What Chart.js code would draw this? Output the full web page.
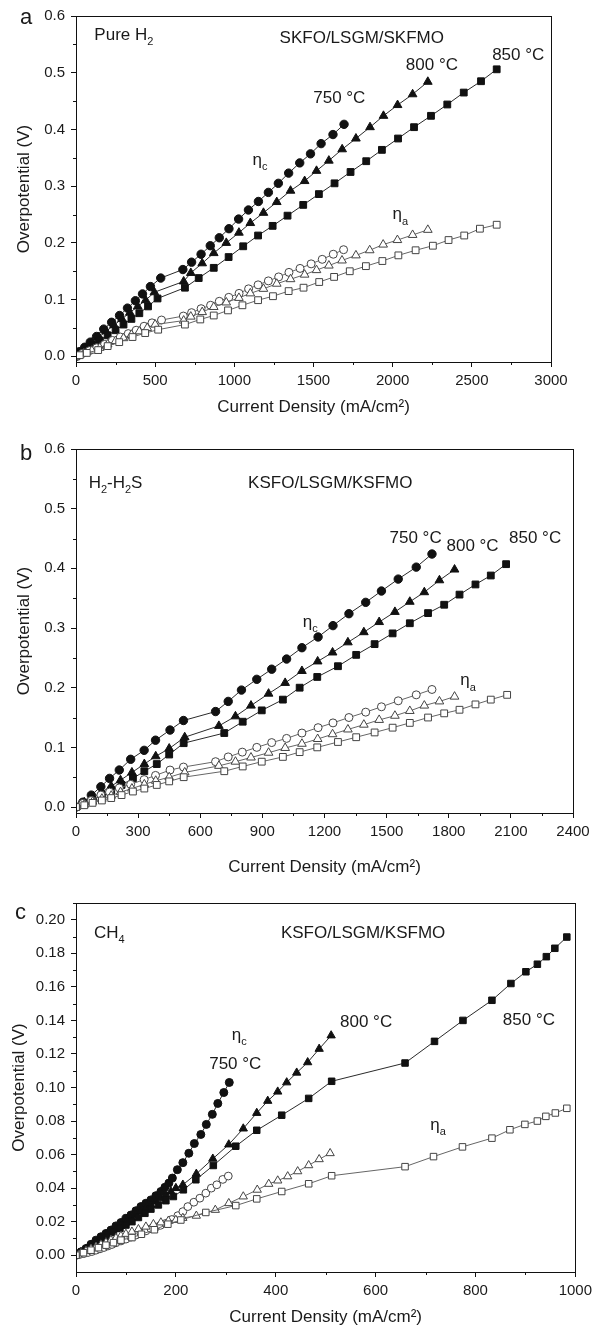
<!DOCTYPE html>
<html>
<head>
<meta charset="utf-8">
<script src="https://cdn.jsdelivr.net/npm/chart.js@4.4.1/dist/chart.umd.min.js"></script>
<style>
  html, body { margin: 0; padding: 0; background: #fff; }
  #wrap { position: relative; width: 597px; height: 1335px; }
  canvas { position: absolute; left: 0; }
</style>
</head>
<body>
<div id="wrap">
  <canvas id="chartA" width="597" height="418" style="top:0"></canvas>
  <canvas id="chartB" width="597" height="448" style="top:430px"></canvas>
  <canvas id="chartC" width="597" height="448" style="top:880px"></canvas>
</div>
<script>
// ---- panel a: pure H2, [current density mA/cm2, overpotential V] ----
const aCath750 = [[0,0],[20,0.008],[55,0.016],[90,0.025],[130,0.035],[175,0.048],[225,0.060],[275,0.072],[325,0.085],[375,0.098],[420,0.110],[470,0.123],[535,0.138],[675,0.153],[730,0.166],[790,0.180],[848,0.195],[905,0.209],[966,0.225],[1027,0.242],[1089,0.258],[1152,0.273],[1215,0.289],[1278,0.305],[1343,0.323],[1413,0.341],[1481,0.357],[1548,0.375],[1623,0.391],[1693,0.409]];
const aCath800 = [[0,0],[25,0.007],[60,0.014],[100,0.024],[145,0.034],[190,0.044],[240,0.055],[290,0.066],[340,0.077],[390,0.088],[440,0.099],[495,0.113],[680,0.132],[725,0.147],[797,0.164],[870,0.182],[949,0.200],[1029,0.218],[1101,0.235],[1184,0.253],[1268,0.272],[1355,0.292],[1444,0.309],[1519,0.327],[1597,0.345],[1681,0.365],[1768,0.384],[1857,0.404],[1942,0.424],[2031,0.443],[2126,0.462],[2222,0.484]];
const aCath850 = [[0,0],[30,0.005],[70,0.012],[110,0.020],[150,0.028],[200,0.037],[250,0.046],[300,0.056],[350,0.066],[400,0.076],[455,0.088],[515,0.102],[688,0.121],[775,0.138],[870,0.156],[964,0.175],[1056,0.194],[1150,0.213],[1242,0.230],[1336,0.248],[1435,0.267],[1534,0.286],[1633,0.305],[1734,0.325],[1833,0.344],[1932,0.364],[2034,0.384],[2135,0.404],[2242,0.424],[2345,0.444],[2449,0.465],[2558,0.485],[2657,0.506]];
const aAn750 = [[0,0],[40,0.005],[85,0.010],[130,0.015],[180,0.021],[230,0.028],[280,0.034],[330,0.040],[380,0.046],[430,0.053],[480,0.059],[540,0.064],[678,0.071],[730,0.077],[790,0.084],[850,0.090],[905,0.097],[965,0.104],[1030,0.111],[1090,0.119],[1150,0.126],[1215,0.133],[1280,0.140],[1345,0.148],[1415,0.155],[1485,0.163],[1555,0.171],[1625,0.180],[1690,0.188]];
const aAn800 = [[0,0],[50,0.005],[100,0.010],[150,0.015],[200,0.021],[250,0.027],[300,0.032],[350,0.038],[400,0.044],[450,0.050],[500,0.056],[680,0.063],[725,0.070],[797,0.078],[870,0.087],[949,0.095],[1029,0.103],[1101,0.111],[1184,0.119],[1268,0.128],[1355,0.136],[1444,0.144],[1519,0.152],[1597,0.160],[1680,0.169],[1768,0.178],[1855,0.187],[1940,0.197],[2030,0.205],[2126,0.214],[2222,0.223]];
const aAn850 = [[0,0],[24,0.002],[68,0.006],[140,0.011],[200,0.018],[273,0.025],[357,0.034],[437,0.041],[519,0.047],[688,0.056],[785,0.065],[870,0.072],[960,0.081],[1051,0.090],[1150,0.099],[1244,0.106],[1343,0.115],[1437,0.121],[1536,0.131],[1630,0.140],[1729,0.150],[1831,0.159],[1935,0.168],[2036,0.178],[2145,0.187],[2254,0.195],[2353,0.205],[2452,0.213],[2551,0.225],[2657,0.232]];
const aXTicks = [0, 500, 1000, 1500, 2000, 2500, 3000];
const aYTicks = [0, 0.1, 0.2, 0.3, 0.4, 0.5, 0.6];

// ---- panel b: H2-H2S ----
const bCath750 = [[0,0],[33,0.008],[74,0.020],[120,0.034],[162,0.048],[209,0.062],[264,0.080],[329,0.095],[384,0.112],[454,0.129],[519,0.145],[674,0.160],[735,0.177],[799,0.196],[873,0.214],[945,0.231],[1017,0.248],[1091,0.267],[1169,0.285],[1241,0.304],[1318,0.324],[1399,0.343],[1475,0.362],[1556,0.382],[1643,0.402],[1719,0.424]];
const bCath800 = [[0,0],[40,0.008],[80,0.016],[125,0.025],[170,0.035],[215,0.045],[270,0.058],[330,0.072],[385,0.085],[450,0.098],[525,0.117],[690,0.136],[770,0.152],[845,0.170],[930,0.190],[1010,0.208],[1091,0.228],[1167,0.244],[1239,0.259],[1313,0.276],[1390,0.293],[1464,0.310],[1540,0.327],[1612,0.344],[1682,0.360],[1755,0.380],[1828,0.398]];
const bCath850 = [[0,0],[40,0.006],[80,0.012],[125,0.020],[170,0.028],[220,0.037],[275,0.048],[330,0.060],[390,0.072],[450,0.088],[520,0.107],[716,0.124],[805,0.143],[897,0.162],[999,0.180],[1080,0.200],[1165,0.218],[1265,0.236],[1353,0.255],[1442,0.273],[1529,0.291],[1612,0.308],[1700,0.325],[1778,0.339],[1852,0.356],[1929,0.373],[2003,0.388],[2077,0.407]];
const bAn750 = [[0,0],[33,0.006],[74,0.011],[120,0.020],[162,0.025],[209,0.032],[264,0.038],[329,0.046],[384,0.053],[454,0.062],[519,0.067],[674,0.076],[735,0.084],[803,0.092],[873,0.100],[945,0.108],[1017,0.115],[1091,0.124],[1169,0.133],[1241,0.141],[1318,0.150],[1399,0.159],[1475,0.168],[1556,0.178],[1643,0.188],[1719,0.197]];
const bAn800 = [[0,0],[40,0.004],[80,0.009],[125,0.014],[170,0.019],[215,0.025],[270,0.031],[330,0.038],[385,0.044],[450,0.050],[525,0.058],[690,0.069],[770,0.076],[845,0.083],[930,0.091],[1010,0.099],[1091,0.106],[1167,0.114],[1239,0.122],[1313,0.130],[1390,0.138],[1464,0.146],[1540,0.153],[1612,0.161],[1682,0.170],[1755,0.177],[1828,0.185]];
const bAn850 = [[0,0],[40,0.003],[80,0.007],[125,0.011],[170,0.015],[220,0.020],[275,0.026],[330,0.031],[390,0.037],[450,0.043],[520,0.050],[716,0.060],[805,0.068],[897,0.076],[999,0.084],[1080,0.092],[1165,0.100],[1265,0.109],[1353,0.117],[1442,0.125],[1529,0.133],[1612,0.141],[1700,0.150],[1778,0.157],[1852,0.163],[1929,0.172],[2003,0.180],[2082,0.188]];
const bXTicks = [0, 300, 600, 900, 1200, 1500, 1800, 2100, 2400];
const bYTicks = [0, 0.1, 0.2, 0.3, 0.4, 0.5, 0.6];

// ---- panel c: CH4 ----
const cCath750 = [[0,0],[10,0.002],[20,0.004],[30,0.0065],[40,0.009],[50,0.011],[60,0.013],[70,0.015],[80,0.0175],[90,0.0195],[100,0.022],[110,0.024],[120,0.0265],[130,0.029],[140,0.031],[150,0.033],[160,0.0355],[170,0.038],[178,0.0405],[186,0.043],[193,0.046],[203,0.051],[214,0.0552],[226,0.0608],[237,0.0666],[250,0.072],[261,0.078],[273,0.084],[284,0.0905],[296,0.097],[307,0.103]];
const cCath800 = [[0,0],[10,0.0018],[20,0.0036],[30,0.0055],[40,0.0075],[50,0.0095],[60,0.0115],[70,0.0135],[80,0.0155],[90,0.0175],[100,0.0195],[110,0.022],[120,0.024],[130,0.026],[140,0.028],[150,0.030],[160,0.032],[170,0.034],[180,0.036],[190,0.038],[200,0.040],[214,0.042],[241,0.0485],[274,0.0575],[306,0.066],[335,0.0755],[362,0.0848],[384,0.092],[404,0.0975],[422,0.103],[442,0.1088],[464,0.115],[487,0.123],[511,0.131]];
const cCath850 = [[0,0],[12,0.002],[25,0.004],[38,0.0065],[50,0.009],[62,0.011],[75,0.0135],[88,0.016],[100,0.018],[112,0.020],[125,0.0225],[138,0.025],[150,0.0275],[165,0.030],[180,0.0325],[195,0.035],[215,0.039],[240,0.045],[275,0.0535],[320,0.065],[362,0.0745],[412,0.0835],[466,0.0935],[512,0.1037],[659,0.1146],[718,0.1275],[775,0.140],[833,0.152],[871,0.162],[901,0.169],[924,0.1735],[942,0.178],[959,0.183],[983,0.1897]];
const cAn750 = [[0,0],[8,0.0005],[16,0.001],[24,0.0016],[32,0.0022],[40,0.003],[48,0.0038],[56,0.0046],[64,0.0055],[72,0.0064],[80,0.0074],[90,0.0085],[100,0.0096],[110,0.0108],[120,0.012],[130,0.0132],[140,0.0145],[150,0.0158],[160,0.0168],[169,0.0178],[180,0.019],[192,0.0213],[204,0.0236],[214,0.026],[224,0.029],[236,0.0316],[248,0.034],[260,0.037],[271,0.040],[282,0.042],[294,0.0452],[305,0.0472]];
const cAn800 = [[0,0],[10,0.0012],[20,0.0025],[30,0.0038],[40,0.005],[50,0.0063],[60,0.0076],[70,0.009],[80,0.0102],[90,0.0115],[100,0.0127],[112,0.014],[125,0.0155],[140,0.017],[155,0.0185],[170,0.0195],[185,0.0205],[200,0.021],[214,0.0222],[241,0.0235],[279,0.027],[306,0.031],[335,0.035],[363,0.039],[386,0.0425],[404,0.0445],[424,0.047],[444,0.050],[466,0.0536],[487,0.0572],[509,0.0608]];
const cAn850 = [[0,0],[15,0.0015],[30,0.003],[45,0.0045],[60,0.006],[75,0.0075],[90,0.009],[112,0.0105],[131,0.0125],[157,0.0152],[184,0.0185],[210,0.021],[260,0.0255],[320,0.0296],[362,0.0336],[412,0.038],[466,0.0426],[512,0.0474],[659,0.0528],[716,0.0588],[774,0.0646],[833,0.0698],[869,0.0748],[899,0.078],[924,0.080],[941,0.0828],[960,0.0848],[983,0.0876]];
const cXTicks = [0, 200, 400, 600, 800, 1000];
const cYTicks = [0, 0.02, 0.04, 0.06, 0.08, 0.10, 0.12, 0.14, 0.16, 0.18, 0.20];

const FONT = 'Liberation Sans, Arial, sans-serif';
const INK = '#1a1a1a';

function series(points, style, filled, r) {
  return {
    data: points.map(([x, y]) => ({ x, y })),
    showLine: true,
    tension: 0,
    borderWidth: 1,
    borderColor: filled ? '#2a2a2a' : '#666',
    pointStyle: style,
    pointRadius: r,
    pointBorderWidth: 1,
    pointBorderColor: filled ? '#111' : '#444',
    pointBackgroundColor: filled ? '#111' : '#fff',
  };
}

// box frame, minor ticks, in-plot labels and panel letter
const decor = {
  id: 'decor',
  afterDraw(chart, args, o) {
    const { ctx, chartArea: a, scales: { x, y } } = chart;
    ctx.save();
    ctx.strokeStyle = '#111';
    ctx.lineWidth = 1;
    ctx.strokeRect(Math.round(a.left) + 0.5, Math.round(a.top) + 0.5,
      Math.round(a.right - a.left), Math.round(a.bottom - a.top));

    ctx.beginPath();
    for (let i = 0; i + 1 < o.xTicks.length; i++) {
      const px = Math.round(x.getPixelForValue((o.xTicks[i] + o.xTicks[i + 1]) / 2)) + 0.5;
      ctx.moveTo(px, a.bottom); ctx.lineTo(px, a.bottom + 3);
    }
    const yMinor = [];
    for (let i = 0; i + 1 < o.yTicks.length; i++) yMinor.push((o.yTicks[i] + o.yTicks[i + 1]) / 2);
    if (o.yTop) yMinor.push(o.yTop);
    yMinor.forEach(v => {
      const py = Math.round(y.getPixelForValue(v)) + 0.5;
      ctx.moveTo(a.left - 3, py); ctx.lineTo(a.left, py);
    });
    ctx.stroke();

    ctx.fillStyle = INK;
    ctx.textBaseline = 'middle';
    ctx.textAlign = 'left';
    o.labels.forEach(l => {
      const px = x.getPixelForValue(l.x);
      const py = y.getPixelForValue(l.y);
      let w = 0;
      l.parts.forEach(([t, sub]) => {
        ctx.font = (sub ? 11 : 17) + 'px ' + FONT;
        w += ctx.measureText(t).width;
      });
      let cx = l.align === 'left' ? px : px - w / 2;
      l.parts.forEach(([t, sub]) => {
        ctx.font = (sub ? 11 : 17) + 'px ' + FONT;
        ctx.fillText(t, cx, sub ? py + 7 : py);
        cx += ctx.measureText(t).width;
      });
    });

    ctx.font = '22px ' + FONT;
    ctx.fillText(o.letter[0], o.letter[1], o.letter[2]);
    ctx.restore();
  }
};

function panel(id, cfg) {
  const H = document.getElementById(id).height;
  return new Chart(document.getElementById(id), {
    type: 'scatter',
    data: { datasets: cfg.datasets },
    options: {
      responsive: false,
      animation: false,
      layout: { padding: { left: cfg.padLeft, top: cfg.top, right: 597 - cfg.right, bottom: 0 } },
      plugins: {
        legend: { display: false },
        tooltip: { enabled: false },
        decor: { xTicks: cfg.xTicks, yTicks: cfg.yTicks, yTop: cfg.yTop, labels: cfg.labels, letter: cfg.letter },
      },
      scales: {
        x: {
          type: 'linear',
          min: cfg.xTicks[0],
          max: cfg.xTicks[cfg.xTicks.length - 1],
          afterFit: s => { s.height = H - cfg.bottom; },
          afterBuildTicks: s => { s.ticks = cfg.xTicks.map(v => ({ value: v })); },
          ticks: { color: INK, font: { family: FONT, size: 15 }, padding: 5, maxRotation: 0, callback: v => String(v) },
          grid: { drawOnChartArea: false, drawTicks: true, tickLength: 5, tickColor: '#111' },
          border: { color: '#111', width: 1 },
          title: { display: true, text: 'Current Density (mA/cm²)', color: INK, font: { family: FONT, size: 17 }, padding: 0 },
        },
        y: {
          type: 'linear',
          min: -0.01,
          max: cfg.yMax,
          afterFit: s => { s.width = 76 - cfg.padLeft; },
          afterBuildTicks: s => { s.ticks = cfg.yTicks.map(v => ({ value: v })); },
          ticks: { color: INK, font: { family: FONT, size: 15 }, padding: 6, callback: v => v.toFixed(cfg.digits) },
          grid: { drawOnChartArea: false, drawTicks: true, tickLength: 5, tickColor: '#111' },
          border: { color: '#111', width: 1 },
          title: { display: true, text: 'Overpotential (V)', color: INK, font: { family: FONT, size: 17 }, padding: 0 },
        },
      },
    },
    plugins: [decor],
  });
}

const eta = (s) => [['η', 0], [s, 1]];

panel('chartA', {
  padLeft: 14, top: 16, bottom: 362, right: 551, yMax: 0.6, digits: 1,
  xTicks: aXTicks, yTicks: aYTicks,
  datasets: [
    series(aAn850, 'rect', false, 4.8), series(aAn800, 'triangle', false, 5), series(aAn750, 'circle', false, 4),
    series(aCath850, 'rect', true, 4.8), series(aCath800, 'triangle', true, 5), series(aCath750, 'circle', true, 4.2),
  ],
  labels: [
    { x: 116, y: 0.566, align: 'left', parts: [['Pure H', 0], ['2', 1]] },
    { x: 1805, y: 0.561, parts: [['SKFO/LSGM/SKFMO', 0]] },
    { x: 2793, y: 0.530, parts: [['850 °C', 0]] },
    { x: 2248, y: 0.513, parts: [['800 °C', 0]] },
    { x: 1663, y: 0.455, parts: [['750 °C', 0]] },
    { x: 1162, y: 0.346, parts: eta('c') },
    { x: 2048, y: 0.250, parts: eta('a') },
  ],
  letter: ['a', 20, 18],
});

panel('chartB', {
  padLeft: 14, top: 19, bottom: 383, right: 573, yMax: 0.6, digits: 1,
  xTicks: bXTicks, yTicks: bYTicks,
  datasets: [
    series(bAn850, 'rect', false, 4.8), series(bAn800, 'triangle', false, 5), series(bAn750, 'circle', false, 4),
    series(bCath850, 'rect', true, 4.8), series(bCath800, 'triangle', true, 5), series(bCath750, 'circle', true, 4.2),
  ],
  labels: [
    { x: 61, y: 0.543, align: 'left', parts: [['H', 0], ['2', 1], ['-H', 0], ['2', 1], ['S', 0]] },
    { x: 1228, y: 0.543, parts: [['KSFO/LSGM/KSFMO', 0]] },
    { x: 1640, y: 0.450, parts: [['750 °C', 0]] },
    { x: 1915, y: 0.437, parts: [['800 °C', 0]] },
    { x: 2217, y: 0.450, parts: [['850 °C', 0]] },
    { x: 1131, y: 0.310, parts: eta('c') },
    { x: 1893, y: 0.212, parts: eta('a') },
  ],
  letter: ['b', 20, 24],
});

panel('chartC', {
  padLeft: 9, top: 23, bottom: 392, right: 581, yMax: 0.21, yTop: 0.21, digits: 2,
  xTicks: cXTicks, yTicks: cYTicks,
  datasets: [
    series(cAn850, 'rect', false, 4.6), series(cAn800, 'triangle', false, 4.8), series(cAn750, 'circle', false, 3.9),
    series(cCath850, 'rect', true, 4.6), series(cCath800, 'triangle', true, 4.8), series(cCath750, 'circle', true, 4),
  ],
  labels: [
    { x: 36, y: 0.192, align: 'left', parts: [['CH', 0], ['4', 1]] },
    { x: 575, y: 0.192, parts: [['KSFO/LSGM/KSFMO', 0]] },
    { x: 327, y: 0.1313, parts: eta('c') },
    { x: 319, y: 0.114, parts: [['750 °C', 0]] },
    { x: 581, y: 0.139, parts: [['800 °C', 0]] },
    { x: 907, y: 0.140, parts: [['850 °C', 0]] },
    { x: 725, y: 0.0777, parts: eta('a') },
  ],
  letter: ['c', 15, 33],
});
</script>
</body>
</html>
